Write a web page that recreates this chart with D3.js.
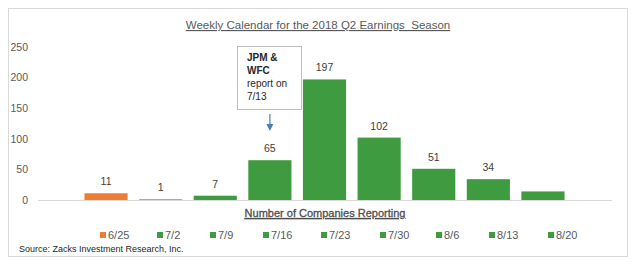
<!DOCTYPE html>
<html>
<head>
<meta charset="utf-8">
<script src="https://cdn.jsdelivr.net/npm/d3@7"></script>
<style>
  body { margin: 0; background: #fff; }
  svg { display: block; font-family: "Liberation Sans", Arial, sans-serif; }
</style>
</head>
<body>
<svg id="chart" width="637" height="266"></svg>
<script>
// weekly buckets and number of companies reporting
const weeks = ["6/25", "7/2", "7/9", "7/16", "7/23", "7/30", "8/6", "8/13", "8/20"];
const counts = [11, 1, 7, 65, 197, 102, 51, 34, 14];
const showLabel = [true, true, true, true, true, true, true, true, false];
const yTicks = [0, 50, 100, 150, 200, 250];
const noteLines = [
  { text: "JPM &", bold: true },
  { text: "WFC", bold: true },
  { text: "report on", bold: false },
  { text: "7/13", bold: false }
];

const svg = d3.select("#chart");
const grey = "#595959";
const orange = "#ED7D31";
const green = "#3F9B3F";

// frame
svg.append("rect")
  .attr("x", 8.5).attr("y", 8.5)
  .attr("width", 619).attr("height", 248)
  .attr("fill", "#fff").attr("stroke", "#d9d9d9");

const x = d3.scaleBand().domain(weeks).range([79, 570]).paddingInner(0.21).paddingOuter(0.1);
const y = d3.scaleLinear().domain([0, 250]).range([200, 47]);

// title
svg.append("text")
  .attr("x", 318).attr("y", 29)
  .attr("text-anchor", "middle")
  .attr("font-size", 11.5)
  .attr("fill", grey)
  .attr("text-decoration", "underline")
  .style("white-space", "pre")
  .text("Weekly Calendar for the 2018 Q2 Earnings  Season");

// y axis labels (no line)
const yAxis = d3.axisLeft(y).tickValues(yTicks).tickSize(0).tickPadding(0);
const yg = svg.append("g").attr("transform", "translate(28,0)").call(yAxis);
yg.select(".domain").remove();
yg.selectAll("text").attr("font-size", 10.5).attr("fill", grey)
  .attr("font-family", "Liberation Sans, Arial, sans-serif");

// baseline
svg.append("line")
  .attr("x1", 38).attr("x2", 612)
  .attr("y1", y(0) + 0.5).attr("y2", y(0) + 0.5)
  .attr("stroke", "#d9d9d9");

// bars
svg.append("g").selectAll("rect")
  .data(weeks)
  .join("rect")
  .attr("x", d => x(d))
  .attr("width", x.bandwidth())
  .attr("y", (d, i) => y(counts[i]))
  .attr("height", (d, i) => y(0) - y(counts[i]))
  .attr("fill", (d, i) => i === 0 ? orange : green);

// value labels
svg.append("g").selectAll("text")
  .data(weeks.filter((d, i) => showLabel[i]))
  .join("text")
  .attr("x", d => x(d) + x.bandwidth() / 2)
  .attr("y", d => y(counts[weeks.indexOf(d)]) - 8)
  .attr("text-anchor", "middle")
  .attr("font-size", 10.5)
  .attr("fill", "#404040")
  .text(d => counts[weeks.indexOf(d)]);

// annotation box
const note = svg.append("g");
note.append("rect")
  .attr("x", 237.5).attr("y", 46.5)
  .attr("width", 64).attr("height", 63)
  .attr("fill", "#fff").attr("stroke", "#bfbfbf");
note.selectAll("text")
  .data(noteLines)
  .join("text")
  .attr("x", 247)
  .attr("y", (d, i) => 61 + i * 13)
  .attr("font-size", 10)
  .attr("font-weight", d => d.bold ? "bold" : "normal")
  .attr("fill", "#262626")
  .text(d => d.text);

// arrow
const ax = x("7/16") + x.bandwidth() / 2;
note.append("line")
  .attr("x1", ax).attr("x2", ax)
  .attr("y1", 114).attr("y2", 126)
  .attr("stroke", "#4A7EBB").attr("stroke-width", 1.2);
note.append("path")
  .attr("d", `M${ax - 3.5},124 L${ax + 3.5},124 L${ax},131 Z`)
  .attr("fill", "#4A7EBB");

// x axis title
svg.append("text")
  .attr("x", 325).attr("y", 217)
  .attr("text-anchor", "middle")
  .attr("font-size", 11)
  .attr("fill", "#4d4d4d")
  .attr("stroke", "#4d4d4d")
  .attr("stroke-width", 0.3)
  .attr("text-decoration", "underline")
  .text("Number of Companies Reporting");

// legend
const legendX = [100, 157, 210, 263, 321, 380, 436, 489, 548];
const leg = svg.append("g").selectAll("g")
  .data(weeks)
  .join("g")
  .attr("transform", (d, i) => `translate(${legendX[i]},235)`);
leg.append("rect")
  .attr("x", 0).attr("y", -3)
  .attr("width", 6).attr("height", 6)
  .attr("fill", (d, i) => i === 0 ? orange : green);
leg.append("text")
  .attr("x", 8).attr("y", 4)
  .attr("font-size", 11)
  .attr("fill", grey)
  .text(d => d);

// source
svg.append("text")
  .attr("x", 19).attr("y", 252)
  .attr("font-size", 9)
  .attr("fill", "#262626")
  .text("Source: Zacks Investment Research, Inc.");
</script>
</body>
</html>
